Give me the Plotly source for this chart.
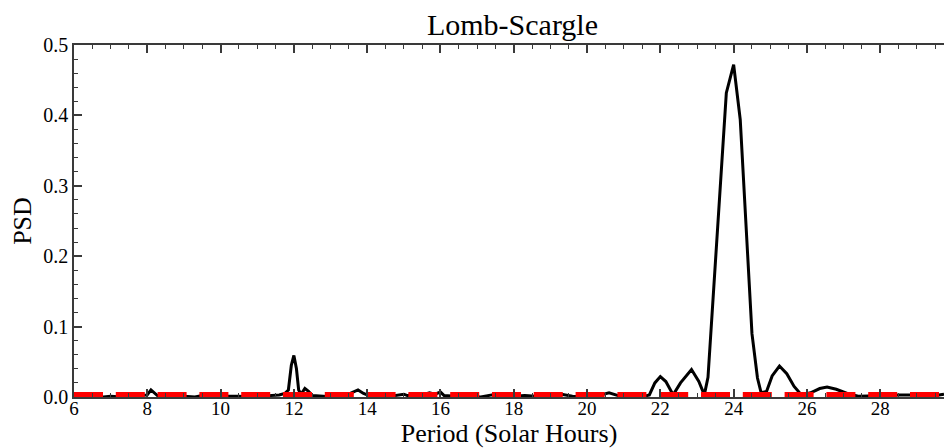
import plotly.graph_objects as go

# Period (solar hours) and Lomb-Scargle PSD
period = [6.0, 6.5, 6.8, 7.0, 7.3, 7.6, 7.9, 8.0, 8.1, 8.2, 8.3, 8.6, 9.0, 9.3, 9.5, 9.8,
          10.0, 10.3, 10.5, 10.8, 11.1, 11.4, 11.6, 11.75, 11.85, 11.93, 12.0, 12.07, 12.13,
          12.2, 12.3, 12.4, 12.5, 12.8, 13.1, 13.4, 13.6, 13.75, 13.9, 14.1, 14.5, 14.8,
          15.0, 15.1, 15.3, 15.5, 15.7, 15.85, 16.0, 16.1, 16.4, 16.8, 17.1, 17.4, 17.7,
          18.0, 18.3, 18.6, 19.0, 19.3, 19.6, 20.0, 20.3, 20.6, 20.85, 21.1, 21.5, 21.7,
          21.85, 22.0, 22.15, 22.35, 22.55, 22.85, 23.05, 23.2, 23.3, 23.62, 23.8, 24.0,
          24.18, 24.5, 24.65, 24.75, 24.9, 25.05, 25.25, 25.45, 25.65, 25.85, 26.1, 26.35,
          26.55, 26.8, 27.1, 27.4, 27.8, 28.2, 28.5, 28.9, 29.2, 29.5, 29.74]
psd = [0.001, 0.000, 0.000, 0.001, 0.000, 0.001, 0.002, 0.003, 0.010, 0.006, 0.001, 0.000,
       0.001, 0.000, 0.002, 0.001, 0.001, 0.002, 0.001, 0.000, 0.001, 0.002, 0.003, 0.005,
       0.010, 0.045, 0.059, 0.040, 0.010, 0.004, 0.012, 0.008, 0.002, 0.001, 0.000, 0.002,
       0.006, 0.010, 0.005, 0.001, 0.000, 0.002, 0.004, 0.002, 0.005, 0.003, 0.006, 0.004,
       0.007, 0.002, 0.001, 0.001, 0.000, 0.003, 0.002, 0.001, 0.002, 0.001, 0.003, 0.004,
       0.001, 0.000, 0.002, 0.006, 0.002, 0.000, 0.000, 0.003, 0.020, 0.029, 0.022, 0.003,
       0.020, 0.039, 0.022, 0.003, 0.028, 0.289, 0.432, 0.472, 0.394, 0.090, 0.027, 0.006,
       0.008, 0.030, 0.044, 0.033, 0.015, 0.003, 0.006, 0.012, 0.014, 0.011, 0.005, 0.001,
       0.001, 0.002, 0.003, 0.003, 0.001, 0.002, 0.004]

# significance level (red dashed)
sig_x = [6.0, 29.74]
sig_y = [0.0035, 0.0035]

x_ticks = [6, 8, 10, 12, 14, 16, 18, 20, 22, 24, 26, 28]
y_ticks = [0.0, 0.1, 0.2, 0.3, 0.4, 0.5]
y_ticklabels = ["0.0", "0.1", "0.2", "0.3", "0.4", "0.5"]

FONT = "Liberation Serif"
AX = "#3a3a3a"

fig = go.Figure()
fig.add_trace(go.Scatter(x=period, y=psd, mode="lines",
                         line=dict(color="black", width=3), showlegend=False))
fig.add_trace(go.Scatter(x=sig_x, y=sig_y, mode="lines",
                         line=dict(color="#ff0000", width=5, dash="29px,12.8px"),
                         showlegend=False))

fig.update_layout(
    width=944, height=448,
    margin=dict(l=74, r=0, t=45, b=51),
    paper_bgcolor="white", plot_bgcolor="white",
    font=dict(family=FONT, color="black"),
    title=dict(text="Lomb-Scargle", font=dict(family=FONT, size=30, color="black"),
               xref="paper", x=0.504, xanchor="center",
               yref="container", y=1 - 24 / 448, yanchor="middle"),
)
fig.update_xaxes(
    range=[6, 29.74], tickvals=x_ticks, ticktext=[str(v) for v in x_ticks],
    showgrid=False, zeroline=False,
    showline=True, linecolor=AX, linewidth=1.5, mirror="allticks",
    ticks="inside", ticklen=8, tickwidth=1.5, tickcolor=AX,
    minor=dict(dtick=0.5, tick0=6, ticks="inside", ticklen=4, tickwidth=1, tickcolor=AX, showgrid=False),
    tickfont=dict(family=FONT, size=19, color="black"),
    ticklabelstandoff=-7,
    title=dict(text="Period (Solar Hours)", font=dict(family=FONT, size=26, color="black"), standoff=6),
    automargin=False,
)
fig.update_yaxes(
    range=[0, 0.5], tickvals=y_ticks, ticktext=y_ticklabels,
    showgrid=False, zeroline=False,
    showline=True, linecolor=AX, linewidth=1.5, mirror=False,
    ticks="inside", ticklen=8, tickwidth=1.5, tickcolor=AX,
    minor=dict(dtick=0.02, tick0=0, ticks="inside", ticklen=4, tickwidth=1, tickcolor=AX, showgrid=False),
    tickfont=dict(family=FONT, size=20, color="black"),
    title=dict(text="PSD", font=dict(family=FONT, size=26, color="black"), standoff=4),
    automargin=False,
)

fig.write_html("out.html")
